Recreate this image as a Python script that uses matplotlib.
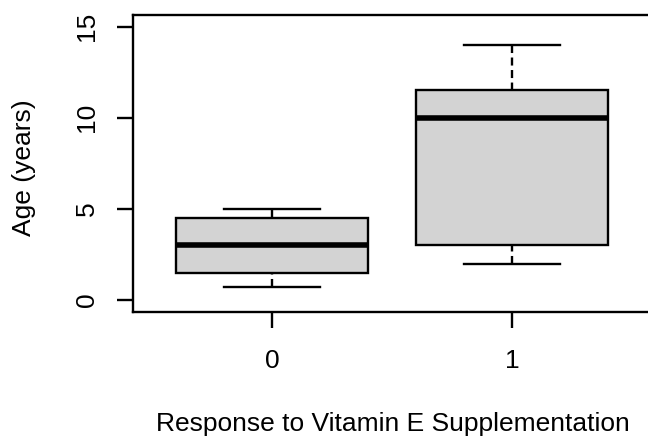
import matplotlib
matplotlib.use('Agg')
import matplotlib.pyplot as plt

# R-style boxplot: age by response to vitamin E supplementation
groups = ['0', '1']
whisker_low = [0.7, 2.0]
q1 = [1.5, 3.0]
median = [3.0, 10.0]
q3 = [4.5, 11.5]
whisker_high = [5.0, 14.0]
y_ticks = [0, 5, 10, 15]

plt.rcParams['font.family'] = ['Liberation Sans', 'DejaVu Sans']

fig = plt.figure(figsize=(6.48, 4.37), dpi=100)
ax = fig.add_axes([133/648, (437-312)/437, (651-133)/648, (312-15)/437])

stats = []
for i, g in enumerate(groups):
    stats.append({'label': g, 'whislo': whisker_low[i], 'q1': q1[i], 'med': median[i],
                  'q3': q3[i], 'whishi': whisker_high[i], 'fliers': []})

lw = 1.7
bp = ax.bxp(stats, positions=[1, 2], widths=0.8, capwidths=0.4, showfliers=False,
            patch_artist=True,
            boxprops=dict(facecolor='#d3d3d3', edgecolor='black', linewidth=lw),
            medianprops=dict(color='black', linewidth=4.0, solid_capstyle='butt'),
            whiskerprops=dict(color='black', linewidth=lw, linestyle=(0, (3.4, 1.9))),
            capprops=dict(color='black', linewidth=lw))
# R draws whiskers from the cap towards the box, so the dash pattern starts at the cap
for w in bp['whiskers']:
    xd, yd = w.get_data()
    w.set_data(xd[::-1], yd[::-1])

ax.set_xlim(0.42, 2.58)
ax.set_ylim(-0.66, 15.64)
ax.set_yticks(y_ticks)
ax.set_yticklabels([str(v) for v in y_ticks])
ax.set_xticks([1, 2])
ax.set_xticklabels(groups)

for s in ax.spines.values():
    s.set_linewidth(lw)
ax.tick_params(length=11.5, width=lw, labelsize=19)
ax.tick_params(axis='x', pad=15)
ax.tick_params(axis='y', pad=13, labelrotation=90)
for lab in ax.get_yticklabels():
    lab.set_va('center')

fig.text(392.5/648, (437-431)/437, 'Response to Vitamin E Supplementation',
         ha='center', va='baseline', fontsize=19)
fig.text(24/648, 1 - 168/437, 'Age (years)', rotation=90,
         ha='center', va='center', fontsize=19)

fig.savefig('out.png', dpi=100)
